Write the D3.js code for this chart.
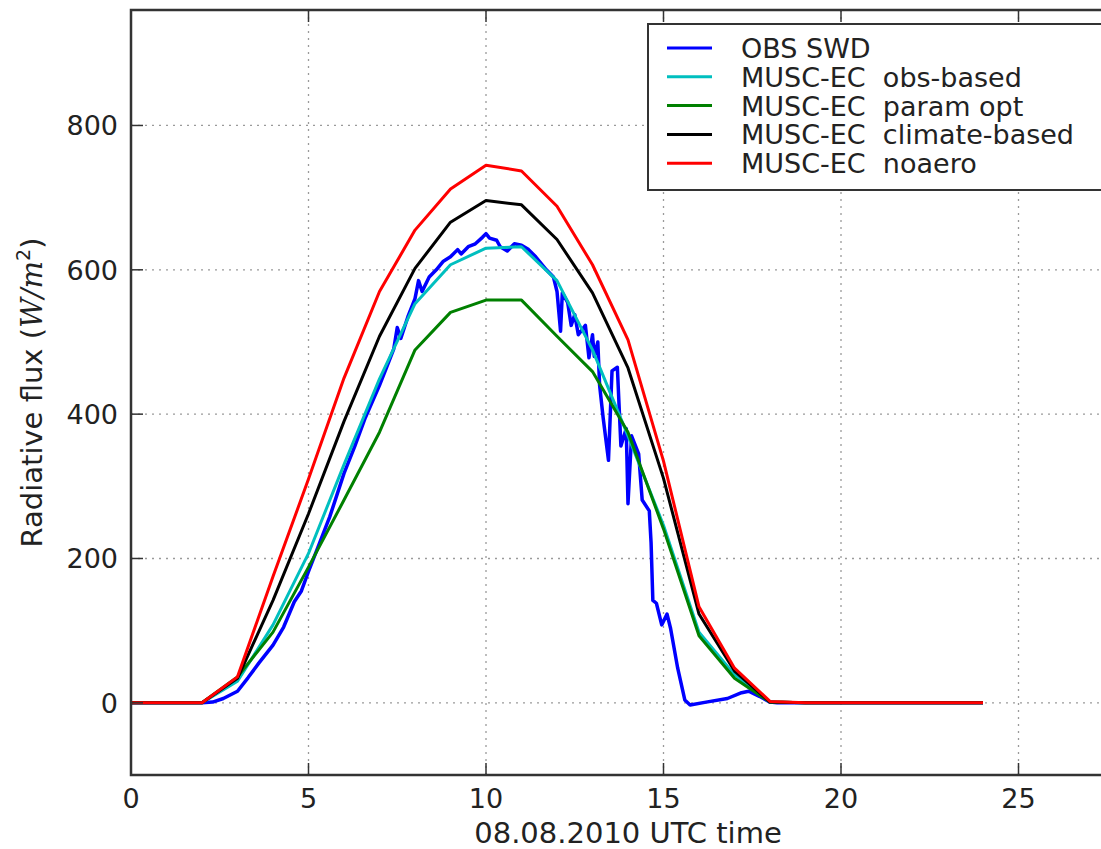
<!DOCTYPE html>
<html>
<head lang="en">
    <meta charset="UTF-8">
    <title>Radiative flux 08.08.2010</title>
    <script src="https://d3js.org/d3.v7.min.js"></script>
    <style>
        body { margin: 0; background: #fff; }
        text { font-family: "DejaVu Sans", sans-serif; fill: #222; }
    </style>
</head>
<body>
<div id="chartContainer"></div>
<script type="text/javascript">

    // hourly model output (UTC hour 0..24)
    var modelHours = d3.range(0, 25);
    var obsBased     = [0, 0, 0, 30, 108, 207, 330, 449, 553, 607, 630, 632, 585, 489, 370, 246, 98, 39, 1, 0, 0, 0, 0, 0, 0];
    var paramOpt     = [0, 0, 0, 36, 98, 188, 281, 375, 489, 541, 558, 558, 508, 459, 375, 241, 93, 34, 1, 0, 0, 0, 0, 0, 0];
    var climateBased = [0, 0, 0, 34, 142, 262, 390, 508, 602, 666, 696, 690, 642, 568, 464, 311, 123, 44, 1, 0, 0, 0, 0, 0, 0];
    var noAero       = [0, 0, 0, 36, 175, 310, 450, 570, 655, 712, 745, 737, 688, 607, 503, 335, 133, 48, 2, 0, 0, 0, 0, 0, 0];

    var obsHour = [0, 2.0, 2.3, 2.6, 3.0, 3.3, 3.6, 4.0, 4.3, 4.6, 4.8, 5.0, 5.3, 5.6, 6.0, 6.3, 6.6, 7.0, 7.2, 7.4, 7.5, 7.6, 7.8,
                   8.0, 8.1, 8.2, 8.4, 8.6, 8.8, 9.0, 9.2, 9.3, 9.5, 9.7, 9.9, 10.0, 10.1, 10.3, 10.4, 10.6, 10.8, 11.0, 11.2,
                   11.4, 11.7, 11.9, 12.0, 12.1, 12.15, 12.3, 12.4, 12.5, 12.6, 12.8, 12.9, 13.0, 13.05, 13.15, 13.2, 13.3,
                   13.45, 13.55, 13.7, 13.8, 13.95, 14.0, 14.1, 14.3, 14.4, 14.6, 14.65, 14.7, 14.8, 14.95, 15.1, 15.2, 15.4,
                   15.6, 15.75, 16.2, 16.8, 17.2, 17.4, 17.7, 18.0, 18.2, 24];
    var obsFlux = [0, 0, 1, 6, 16, 35, 55, 80, 105, 140, 155, 182, 220, 258, 318, 355, 395, 440, 465, 490, 520, 505, 535,
                   560, 585, 570, 590, 600, 612, 618, 628, 622, 632, 636, 645, 650, 644, 641, 632, 626, 636, 634, 628,
                   618, 600, 590, 570, 515, 568, 555, 523, 538, 510, 523, 478, 510, 480, 500, 440, 395,
                   336, 460, 465, 356, 380, 276, 370, 345, 281, 266, 222, 142, 138, 108, 123, 103, 48,
                   4, -3, 1, 6, 14, 16, 9, 1, 0, 0];

    var xTicks = [0, 5, 10, 15, 20, 25];
    var yTicks = [0, 200, 400, 600, 800];

    var seriesNames = ["OBS SWD", "MUSC-EC  obs-based", "MUSC-EC  param opt", "MUSC-EC  climate-based", "MUSC-EC  noaero"];
    var seriesColors = ["#0000ff", "#00bfbf", "#008000", "#000000", "#ff0000"];

    var width = 1101, height = 849;
    var svg = d3.select("#chartContainer").append("svg")
        .attr("width", width).attr("height", height);

    var plotLeft = 131, plotTop = 10, plotBottom = 775;
    var x = d3.scaleLinear().domain([0, 28]).range([plotLeft, plotLeft + 28 * 35.5]);
    var y = d3.scaleLinear().domain([-100, 960]).range([plotBottom, plotTop]);
    var plotRight = x(28);

    // grid
    var grid = svg.append("g")
        .attr("stroke", "#9a9a9a").attr("stroke-width", 1.3).attr("stroke-dasharray", "2,5");
    xTicks.forEach(function (t) {
        grid.append("line").attr("x1", x(t)).attr("x2", x(t)).attr("y1", plotTop).attr("y2", plotBottom);
    });
    yTicks.forEach(function (t) {
        grid.append("line").attr("x1", plotLeft).attr("x2", plotRight).attr("y1", y(t)).attr("y2", y(t));
    });

    // curves
    var line = d3.line().x(function (d) { return x(d[0]); }).y(function (d) { return y(d[1]); });
    var allSeries = [
        d3.zip(obsHour, obsFlux),
        d3.zip(modelHours, obsBased),
        d3.zip(modelHours, paramOpt),
        d3.zip(modelHours, climateBased),
        d3.zip(modelHours, noAero)
    ];
    allSeries.forEach(function (s, i) {
        svg.append("path")
            .attr("d", line(s))
            .attr("fill", "none")
            .attr("stroke", seriesColors[i])
            .attr("stroke-width", i === 0 ? 3.5 : 3)
            .attr("stroke-linejoin", "round");
    });

    // ticks (inward, all four sides)
    var ticks = svg.append("g").attr("stroke", "#333").attr("stroke-width", 1.5);
    xTicks.forEach(function (t) {
        ticks.append("line").attr("x1", x(t)).attr("x2", x(t)).attr("y1", plotBottom).attr("y2", plotBottom - 12);
        ticks.append("line").attr("x1", x(t)).attr("x2", x(t)).attr("y1", plotTop).attr("y2", plotTop + 12);
    });
    yTicks.forEach(function (t) {
        ticks.append("line").attr("x1", plotLeft).attr("x2", plotLeft + 12).attr("y1", y(t)).attr("y2", y(t));
    });

    // spines
    svg.append("rect")
        .attr("x", plotLeft).attr("y", plotTop)
        .attr("width", plotRight - plotLeft).attr("height", plotBottom - plotTop)
        .attr("fill", "none").attr("stroke", "#333").attr("stroke-width", 2.5);

    // tick labels
    svg.selectAll("text.xt").data(xTicks).enter().append("text")
        .attr("class", "xt")
        .attr("x", function (d) { return x(d); })
        .attr("y", 808)
        .attr("text-anchor", "middle")
        .style("font-size", "27px")
        .text(function (d) { return d; });
    svg.selectAll("text.yt").data(yTicks).enter().append("text")
        .attr("class", "yt")
        .attr("x", 118)
        .attr("y", function (d) { return y(d) + 10; })
        .attr("text-anchor", "end")
        .style("font-size", "27px")
        .text(function (d) { return d; });

    // axis labels
    svg.append("text")
        .attr("x", (plotLeft + plotRight) / 2)
        .attr("y", 843)
        .attr("text-anchor", "middle")
        .style("font-size", "29px")
        .text("08.08.2010 UTC time");

    var yl = svg.append("text")
        .attr("transform", "translate(42," + ((plotTop + plotBottom) / 2) + ") rotate(-90)")
        .attr("text-anchor", "middle")
        .style("font-size", "29px");
    yl.append("tspan").text("Radiative flux (");
    yl.append("tspan").style("font-style", "italic").style("font-family", "DejaVu Serif").text("W/m");
    yl.append("tspan").attr("dy", -12).style("font-size", "19px").text("2");
    yl.append("tspan").attr("dy", 12).text(")");

    // legend
    var lg = svg.append("g");
    lg.append("rect")
        .attr("x", 648).attr("y", 24).attr("width", 470).attr("height", 166)
        .attr("fill", "#fff").attr("stroke", "#333").attr("stroke-width", 2);
    seriesNames.forEach(function (name, i) {
        var ly = 48 + i * 28.8;
        lg.append("line")
            .attr("x1", 667).attr("x2", 712).attr("y1", ly).attr("y2", ly)
            .attr("stroke", seriesColors[i]).attr("stroke-width", 3);
        lg.append("text")
            .attr("x", 741).attr("y", ly + 10)
            .style("font-size", "27px")
            .style("white-space", "pre")
            .text(name);
    });
</script>
</body>
</html>
